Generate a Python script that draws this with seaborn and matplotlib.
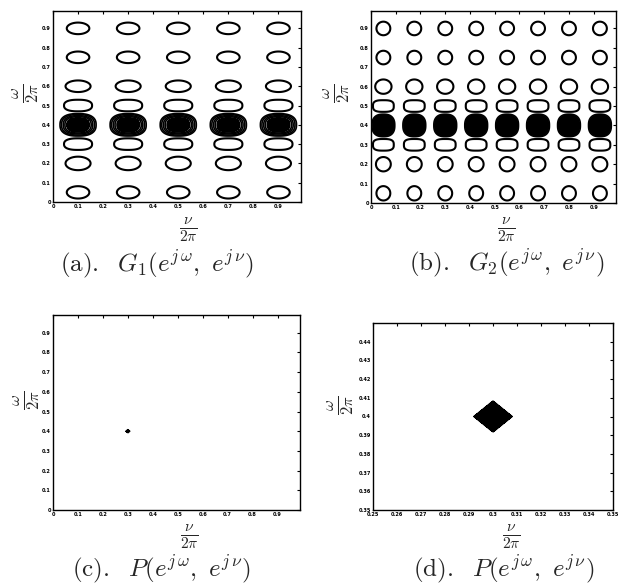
import numpy as np
import matplotlib
matplotlib.use("Agg")
import matplotlib.pyplot as plt
import seaborn as sns

# lobe centres and sizes
rows = [0.05, 0.2, 0.3, 0.4, 0.5, 0.6, 0.75, 0.9]
main_row = 0.4

g1_nu = [0.1, 0.3, 0.5, 0.7, 0.9]
g1_a = [0.045, 0.05, 0.056, 0.072, 0.056, 0.05, 0.045, 0.045]
g1_b = [0.032, 0.035, 0.03, 0.058, 0.03, 0.03, 0.03, 0.03]
g1_p = [2, 2, 2.5, 2.5, 2.5, 2, 2, 2]

g2_nu = [0.05, 0.175, 0.3, 0.425, 0.55, 0.675, 0.8, 0.925]
g2_a = [0.028, 0.03, 0.042, 0.046, 0.042, 0.033, 0.028, 0.028]
g2_b = [0.037, 0.037, 0.03, 0.058, 0.03, 0.037, 0.035, 0.035]
g2_p = [2, 2, 3, 2.5, 3, 2, 2, 2]

# P: single diamond-shaped peak
peak_nu, peak_omega = 0.3, 0.4
peak_half_nu, peak_half_omega = 0.008, 0.0083

ticks_full = [0, 0.1, 0.2, 0.3, 0.4, 0.5, 0.6, 0.7, 0.8, 0.9]
ticks_full_lbl = ["0", "0.1", "0.2", "0.3", "0.4", "0.5", "0.6", "0.7", "0.8", "0.9"]
ticks_zoom_x = [0.25, 0.26, 0.27, 0.28, 0.29, 0.30, 0.31, 0.32, 0.33, 0.34, 0.35]
ticks_zoom_x_lbl = ["0.25", "0.26", "0.27", "0.28", "0.29", "0.3", "0.31", "0.32", "0.33", "0.34", "0.35"]
ticks_zoom_y = [0.35, 0.36, 0.37, 0.38, 0.39, 0.40, 0.41, 0.42, 0.43, 0.44]
ticks_zoom_y_lbl = ["0.35", "0.36", "0.37", "0.38", "0.39", "0.4", "0.41", "0.42", "0.43", "0.44"]

sns.set_style("white")
plt.rcParams["mathtext.fontset"] = "cm"
plt.rcParams["font.family"] = ["DejaVu Sans"]


def lobe_field(X, Y, nus, want_main, a, b, p):
    q = np.full(X.shape, 10.0)
    for r, aa, bb, pp in zip(rows, a, b, p):
        if (r == main_row) != want_main:
            continue
        for nu in nus:
            qq = np.abs((X - nu) / aa) ** pp + np.abs((Y - r) / bb) ** pp
            q = np.minimum(q, qq)
    return q


def style(ax, xt, xl, yt, yl, xlim, ylim):
    ax.set_xlim(*xlim)
    ax.set_ylim(*ylim)
    ax.set_xticks(xt)
    ax.set_xticklabels(xl)
    ax.set_yticks(yt)
    ax.set_yticklabels(yl)
    ax.tick_params(direction="in", length=2, width=0.8, labelsize=3.6, pad=1.5,
                   top=True, right=True, colors="black")
    for lab in ax.get_xticklabels() + ax.get_yticklabels():
        lab.set_fontweight("bold")
    for s in ax.spines.values():
        s.set_color("black")
        s.set_linewidth(1.0)


fig = plt.figure(figsize=(6.18, 5.85), dpi=100)
W, H = 618, 585


def px_axes(l, t, r, b):
    return fig.add_axes([l / W, 1 - b / H, (r - l) / W, (b - t) / H])


ax_a = px_axes(53, 11, 301, 202)
ax_b = px_axes(371, 11, 616, 203)
ax_c = px_axes(53, 315, 300, 510)
ax_d = px_axes(373, 323, 613, 510)

g = np.linspace(0, 1, 800)
X, Y = np.meshgrid(g, g)

ring_levels = {0.3: [0.3, 0.45, 0.6, 0.8, 1.0], 0.7: [0.8, 1.0]}

for ax, nus, a, b, p, core in [(ax_a, g1_nu, g1_a, g1_b, g1_p, 0.3),
                               (ax_b, g2_nu, g2_a, g2_b, g2_p, 0.7)]:
    qs = lobe_field(X, Y, nus, False, a, b, p)
    ax.contour(X, Y, qs, levels=[1.0], colors="black", linewidths=1.5)
    qm = lobe_field(X, Y, nus, True, a, b, p)
    ax.contourf(X, Y, qm, levels=[0, core], colors="black")
    ax.contour(X, Y, qm, levels=ring_levels[core], colors="black", linewidths=1.2)
    style(ax, ticks_full, ticks_full_lbl, ticks_full, ticks_full_lbl, (0, 0.99), (0, 0.99))

gx = np.linspace(0.25, 0.35, 800)
gy = np.linspace(0.35, 0.45, 800)
PX, PY = np.meshgrid(gx, gy)
P = np.abs(PX - peak_nu) / peak_half_nu + np.abs(PY - peak_omega) / peak_half_omega
for ax in (ax_c, ax_d):
    ax.contourf(PX, PY, P, levels=[0, 1], colors="black")
    ax.contour(PX, PY, P, levels=[1], colors="black", linewidths=1.0)
style(ax_c, ticks_full, ticks_full_lbl, ticks_full, ticks_full_lbl, (0, 0.99), (0, 0.99))
style(ax_d, ticks_zoom_x, ticks_zoom_x_lbl, ticks_zoom_y, ticks_zoom_y_lbl, (0.25, 0.35), (0.35, 0.45))

ylab = r"$\frac{\omega}{2\pi}$"
xlab = r"$\frac{\nu}{2\pi}$"
for x, y in [(26, 93), (337, 93), (27, 400), (341, 405)]:
    fig.text(x / W, 1 - y / H, ylab, rotation=90, fontsize=17, ha="center", va="center")
for x, y in [(188, 230), (506, 230), (189, 537), (511, 537)]:
    fig.text(x / W, 1 - y / H, xlab, fontsize=16, ha="center", va="center")

captions = [r"$\mathrm{(a).}\ \ G_1(e^{j\,\omega},\ e^{j\,\nu})$",
            r"$\mathrm{(b).}\ \ G_2(e^{j\,\omega},\ e^{j\,\nu})$",
            r"$\mathrm{(c).}\ \ P(e^{j\,\omega},\ e^{j\,\nu})$",
            r"$\mathrm{(d).}\ \ P(e^{j\,\omega},\ e^{j\,\nu})$"]
for cap, (x, y) in zip(captions, [(157, 264), (507, 263), (161, 569), (504, 569)]):
    fig.text(x / W, 1 - y / H, cap, fontsize=18, ha="center", va="center")

fig.savefig("out.png", dpi=100)
